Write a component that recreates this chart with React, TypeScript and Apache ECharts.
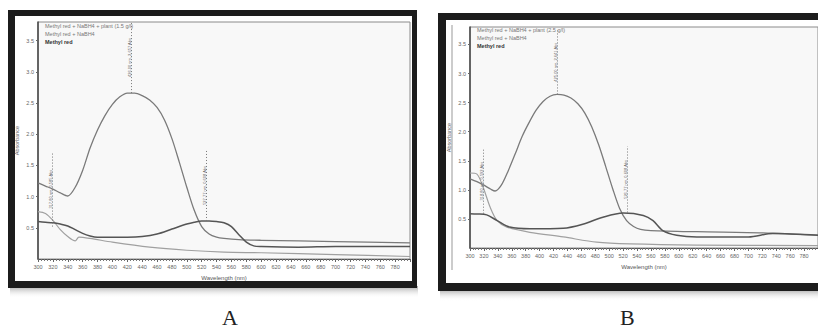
import React, { useEffect, useRef } from "react";
import * as echarts from "echarts";

// ---- Panel A data (wavelength nm, absorbance) ----
const aPlantWl = [300, 310, 320, 330, 340, 350, 360, 370, 380, 390, 400, 410, 420, 430, 440, 450, 460, 470, 480, 490, 500, 510, 520, 530, 540, 550, 570, 600, 700, 800];
const aPlantAbs = [1.22, 1.17, 1.12, 1.06, 1.01, 1.15, 1.42, 1.78, 2.07, 2.3, 2.48, 2.6, 2.66, 2.66, 2.62, 2.55, 2.43, 2.23, 1.93, 1.55, 1.15, 0.78, 0.52, 0.4, 0.35, 0.33, 0.31, 0.3, 0.28, 0.26];
const aRedWl = [300, 310, 320, 330, 340, 350, 360, 370, 380, 400, 420, 440, 460, 480, 500, 510, 520, 530, 540, 550, 560, 570, 580, 590, 600, 650, 700, 800];
const aRedAbs = [0.6, 0.59, 0.58, 0.56, 0.53, 0.47, 0.41, 0.37, 0.35, 0.35, 0.35, 0.36, 0.4, 0.48, 0.56, 0.59, 0.61, 0.61, 0.6, 0.58, 0.52, 0.39, 0.27, 0.21, 0.2, 0.19, 0.2, 0.2];
const aBhWl = [300, 310, 320, 330, 340, 350, 355, 370, 400, 450, 500, 550, 600, 700, 800];
const aBhAbs = [0.76, 0.73, 0.62, 0.47, 0.36, 0.29, 0.35, 0.33, 0.27, 0.19, 0.14, 0.11, 0.1, 0.07, 0.04];

// ---- Panel B data ----
const bPlantWl = [300, 310, 320, 330, 336, 345, 355, 365, 375, 385, 395, 405, 415, 425, 435, 445, 455, 465, 475, 485, 495, 505, 515, 525, 535, 545, 560, 626, 721, 800];
const bPlantAbs = [1.19, 1.14, 1.08, 1.01, 0.98, 1.08, 1.33, 1.62, 1.92, 2.16, 2.37, 2.52, 2.61, 2.64, 2.63, 2.58, 2.48, 2.32, 2.08, 1.77, 1.4, 1.02, 0.68, 0.47, 0.37, 0.32, 0.3, 0.28, 0.26, 0.22];
const bRedWl = [300, 310, 324, 339, 357, 386, 434, 462, 491, 520, 549, 563, 577, 597, 626, 700, 735, 800];
const bRedAbs = [0.59, 0.585, 0.57, 0.47, 0.36, 0.33, 0.34, 0.41, 0.53, 0.6, 0.56, 0.47, 0.3, 0.22, 0.19, 0.19, 0.25, 0.22];
const bBhWl = [300, 310, 319, 329, 339, 353, 386, 434, 482, 530, 626, 800];
const bBhAbs = [1.29, 1.27, 1.04, 0.7, 0.47, 0.36, 0.27, 0.19, 0.1, 0.07, 0.05, 0.04];

// ---- Names / annotations ----
const nameAPlant = "Methyl red + NaBH4 + plant (1.5 g/l)";
const nameBPlant = "Methyl red + NaBH4 + plant (2.5 g/l)";
const nameBh = "Methyl red + NaBH4";
const nameRed = "Methyl red";
const aPeaks = [
  { wl: 426, abs: 2.66, top: 3.8, label: "426.00 nm, 2.657 Abs" },
  { wl: 526, abs: 0.61, top: 1.75, label: "527.77 nm, 0.608 Abs" },
  { wl: 319, abs: 0.52, top: 1.72, label: "317.80 nm, 0.585 Abs" },
];
const bPeaks = [
  { wl: 425, abs: 2.64, top: 3.75, label: "425.00 nm, 2.641 Abs" },
  { wl: 526, abs: 0.61, top: 1.75, label: "526.77 nm, 0.608 Abs" },
  { wl: 319, abs: 0.59, top: 1.71, label: "318.80 nm, 0.592 Abs" },
];
const panelLetters = ["A", "B"];

const zip = (xs: number[], ys: number[]) => xs.map((x, i) => [x, ys[i]]);

export default function App() {
  const ref = useRef<HTMLDivElement>(null);
  useEffect(() => {
    if (!ref.current) return;
    const chart = echarts.init(ref.current, undefined, { renderer: "svg" });
    const YMAX = 3.8;

    const mkGrid = (left: number, top: number, right: number, bottom: number) => ({
      left, top, right, bottom, show: true, backgroundColor: "#f8f8f8", borderColor: "#8a8a8a", borderWidth: 1,
    });
    const mkX = (gi: number) => ({
      type: "value", gridIndex: gi, min: 300, max: 800, interval: 20,
      name: "Wavelength (nm)", nameLocation: "middle", nameGap: 15,
      nameTextStyle: { fontSize: 6, color: "#555", fontFamily: "Liberation Sans" },
      axisLine: { lineStyle: { color: "#555", width: 1 } },
      axisTick: { show: true, length: 3, lineStyle: { color: "#666" } },
      minorTick: { show: true, splitNumber: 5, length: 2, lineStyle: { color: "#777" } },
      splitLine: { show: false },
      axisLabel: { fontSize: 5.5, color: "#666", margin: 5, showMaxLabel: false, fontFamily: "Liberation Sans" },
    });
    const mkY = (gi: number) => ({
      type: "value", gridIndex: gi, min: 0, max: YMAX, interval: 0.5,
      name: "Absorbance", nameLocation: "middle", nameGap: 18,
      nameTextStyle: { fontSize: 5.5, color: "#666", fontFamily: "Liberation Sans" },
      axisLine: { show: true, lineStyle: { color: "#444", width: 1.5 } },
      axisTick: { show: true, length: 2, lineStyle: { color: "#666" } },
      splitLine: { show: false },
      axisLabel: {
        fontSize: 5.5, color: "#666", margin: 4, showMaxLabel: false, showMinLabel: false,
        formatter: (v: number) => v.toFixed(1), fontFamily: "Liberation Sans",
      },
    });
    const peakLines = (peaks: { wl: number; abs: number; top: number; label: string }[]) => ({
      symbol: "none", silent: true,
      lineStyle: { type: [1, 2], color: "#777", width: 1 },
      label: {
        show: true, position: "middle", distance: 0, fontSize: 4, color: "#666",
        fontFamily: "Liberation Sans",
      },
      data: peaks.map((p) => [
        { coord: [p.wl, p.abs], label: { formatter: p.label } },
        { coord: [p.wl, p.top] },
      ]),
    });
    const line = (name: string, data: number[][], gi: number, color: string, width: number, extra: any = {}) => ({
      type: "line", name, data, xAxisIndex: gi, yAxisIndex: gi, smooth: 0.3, showSymbol: false,
      lineStyle: { color, width }, itemStyle: { color }, z: 3, ...extra,
    });

    const shadow = (x: number, w: number, y: number) => ({
      type: "rect", shape: { x, y, width: w, height: 12 }, z: -2,
      style: {
        fill: new echarts.graphic.LinearGradient(0, 0, 0, 1, [
          { offset: 0, color: "rgba(90,90,90,0.55)" },
          { offset: 1, color: "rgba(255,255,255,0)" },
        ]),
      },
    });

    chart.setOption({
      animation: false,
      backgroundColor: "#ffffff",
      grid: [mkGrid(38, 22, 408, 69), mkGrid(470, 27, 0, 80)],
      xAxis: [mkX(0), mkX(1)],
      yAxis: [mkY(0), mkY(1)],
      legend: [
        {
          left: 40, top: 23, orient: "vertical", icon: "none", itemWidth: 0, itemHeight: 6, itemGap: 2,
          padding: 0, selectedMode: false,
          textStyle: { fontSize: 5.5, color: "#777", padding: 0, fontFamily: "Liberation Sans" },
          data: [nameAPlant, nameBh, { name: nameRed, textStyle: { color: "#333", fontWeight: "bold" } }],
        },
        {
          left: 472, top: 27, orient: "vertical", icon: "none", itemWidth: 0, itemHeight: 6, itemGap: 2,
          padding: 0, selectedMode: false,
          textStyle: { fontSize: 5.5, color: "#777", padding: 0, fontFamily: "Liberation Sans" },
          data: [nameBPlant, nameBh, { name: nameRed, textStyle: { color: "#333", fontWeight: "bold" } }],
        },
      ],
      series: [
        line(nameAPlant, zip(aPlantWl, aPlantAbs), 0, "#7a7a7a", 1.3, { markLine: peakLines(aPeaks.slice(0, 1)) }),
        line(nameBh, zip(aBhWl, aBhAbs), 0, "#a0a0a0", 1.2),
        line(nameRed, zip(aRedWl, aRedAbs), 0, "#555555", 1.5, { markLine: peakLines(aPeaks.slice(1)) }),
        line(nameBPlant, zip(bPlantWl, bPlantAbs), 1, "#7a7a7a", 1.3, { markLine: peakLines(bPeaks.slice(0, 1)) }),
        line(nameBh, zip(bBhWl, bBhAbs), 1, "#a0a0a0", 1.2),
        line(nameRed, zip(bRedWl, bRedAbs), 1, "#555555", 1.5, { markLine: peakLines(bPeaks.slice(1)) }),
      ],
      graphic: [
        shadow(10, 408, 286),
        shadow(440, 380, 289),
        // frame A
        { type: "rect", shape: { x: 8, y: 10, width: 409, height: 278 }, style: { fill: "#1c1c1c" }, z: -1 },
        { type: "rect", shape: { x: 15, y: 16, width: 397, height: 265 }, style: { fill: "#ffffff" }, z: -1 },
        // frame B
        { type: "rect", shape: { x: 438, y: 13, width: 400, height: 278 }, style: { fill: "#1c1c1c" }, z: -1 },
        { type: "rect", shape: { x: 446, y: 20, width: 400, height: 263 }, style: { fill: "#ffffff" }, z: -1 },
        { type: "line", shape: { x1: 452, y1: 25, x2: 452, y2: 270 }, style: { stroke: "#999", lineWidth: 1 }, z: -1 },
        {
          type: "text", left: 222, top: 306,
          style: { text: panelLetters[0], fontSize: 22, fill: "#222", fontFamily: "Liberation Serif" },
        },
        {
          type: "text", left: 620, top: 306,
          style: { text: panelLetters[1], fontSize: 22, fill: "#222", fontFamily: "Liberation Serif" },
        },
      ],
    });
    return () => chart.dispose();
  }, []);
  return (
    <div style={{ position: "fixed", left: 0, top: 0, width: 818, height: 328, overflow: "hidden", background: "#fff" }}>
      <div ref={ref} style={{ width: 818, height: 328 }} />
    </div>
  );
}
